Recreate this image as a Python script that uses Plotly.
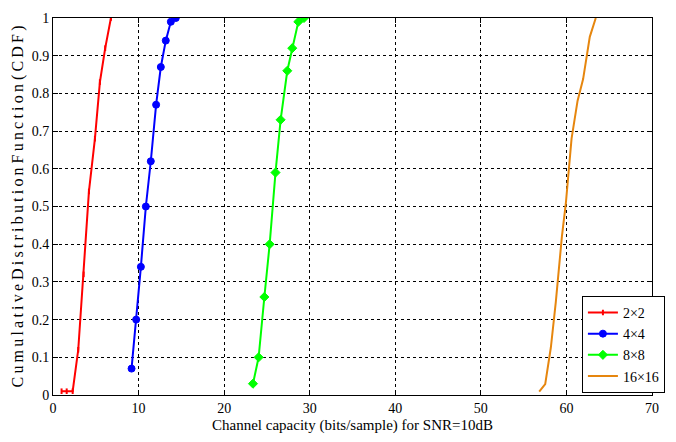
import plotly.graph_objects as go

x_2x2 = [1.0, 1.6, 2.3, 2.95, 3.58, 4.2, 4.9, 5.48, 6.1, 6.77]
y_2x2 = [0.01, 0.01, 0.01, 0.12, 0.32, 0.54, 0.68, 0.83, 0.92, 1.0]

x_4x4 = [9.18, 9.72, 10.27, 10.85, 11.43, 12.05, 12.6, 13.18, 13.77, 14.35]
y_4x4 = [0.07, 0.2, 0.34, 0.5, 0.62, 0.77, 0.87, 0.94, 0.99, 1.0]

x_8x8 = [23.37, 24.03, 24.7, 25.32, 26.0, 26.6, 27.38, 27.96, 28.67, 29.33]
y_8x8 = [0.03, 0.1, 0.26, 0.4, 0.59, 0.73, 0.86, 0.92, 0.99, 1.0]

x_16x16 = [56.82, 57.52, 58.18, 58.76, 59.47, 59.93, 60.6, 61.3, 61.95, 62.73, 63.43]
y_16x16 = [0.009, 0.029, 0.126, 0.247, 0.42, 0.508, 0.68, 0.78, 0.838, 0.95, 1.0]

x_ticks = [0, 10, 20, 30, 40, 50, 60, 70]
y_ticks = [0, 0.1, 0.2, 0.3, 0.4, 0.5, 0.6, 0.7, 0.8, 0.9, 1]
y_tick_labels = ["0", "0.1", "0.2", "0.3", "0.4", "0.5", "0.6", "0.7", "0.8", "0.9", "1"]

font = "'Times New Roman', 'Liberation Serif', 'DejaVu Serif', serif"

fig = go.Figure()
fig.add_trace(go.Scatter(x=x_2x2, y=y_2x2, name="2×2", mode="lines+markers",
                         line=dict(color="#ff0000", width=2),
                         marker=dict(symbol="line-ns", size=4, line=dict(color="#ff0000", width=2))))
fig.add_trace(go.Scatter(x=x_4x4, y=y_4x4, name="4×4", mode="lines+markers",
                         line=dict(color="#0000ff", width=2),
                         marker=dict(symbol="circle", size=7, color="#0000ff",
                                     line=dict(color="#0000ff", width=1))))
fig.add_trace(go.Scatter(x=x_8x8, y=y_8x8, name="8×8", mode="lines+markers",
                         line=dict(color="#00ff00", width=2),
                         marker=dict(symbol="diamond", size=7, color="#00ff00",
                                     line=dict(color="#00ff00", width=1))))
fig.add_trace(go.Scatter(x=x_16x16, y=y_16x16, name="16×16", mode="lines",
                         line=dict(color="#e6860e", width=2)))

ylabel = "\u2009".join(list("Cumulative")) + " " + "\u2009".join(list("Distribution")) + " " + \
         "\u2009".join(list("Function")) + " " + "\u2009".join(list("(CDF)"))

fig.update_layout(
    width=676, height=442,
    margin=dict(l=53, r=23, t=11, b=47),
    paper_bgcolor="white", plot_bgcolor="white",
    font=dict(family=font, size=14, color="black"),
    showlegend=True,
    legend=dict(x=0.883, y=0.263, xanchor="left", yanchor="top",
                bordercolor="black", borderwidth=1, bgcolor="white",
                font=dict(family=font, size=14), tracegroupgap=0,
                itemwidth=30),
)
fig.update_xaxes(range=[0, 70], tickvals=x_ticks, ticktext=[str(v) for v in x_ticks],
                 showgrid=True, gridcolor="black", griddash="3px,3px", gridwidth=1,
                 showline=True, linecolor="black", linewidth=1, mirror="ticks",
                 ticks="inside", ticklen=5, tickcolor="black",
                 zeroline=False,
                 title=dict(text="Channel capacity (bits/sample) for SNR=10dB",
                            font=dict(family=font, size=15), standoff=4),
                 tickfont=dict(family=font, size=14))
fig.update_yaxes(range=[0, 1], tickvals=y_ticks, ticktext=y_tick_labels,
                 showgrid=True, gridcolor="black", griddash="3px,3px", gridwidth=1,
                 showline=True, linecolor="black", linewidth=1, mirror="ticks",
                 ticks="inside", ticklen=5, tickcolor="black",
                 zeroline=False,
                 title=dict(text=ylabel, font=dict(family=font, size=16), standoff=4),
                 tickfont=dict(family=font, size=14))

fig.write_html("out.html")
